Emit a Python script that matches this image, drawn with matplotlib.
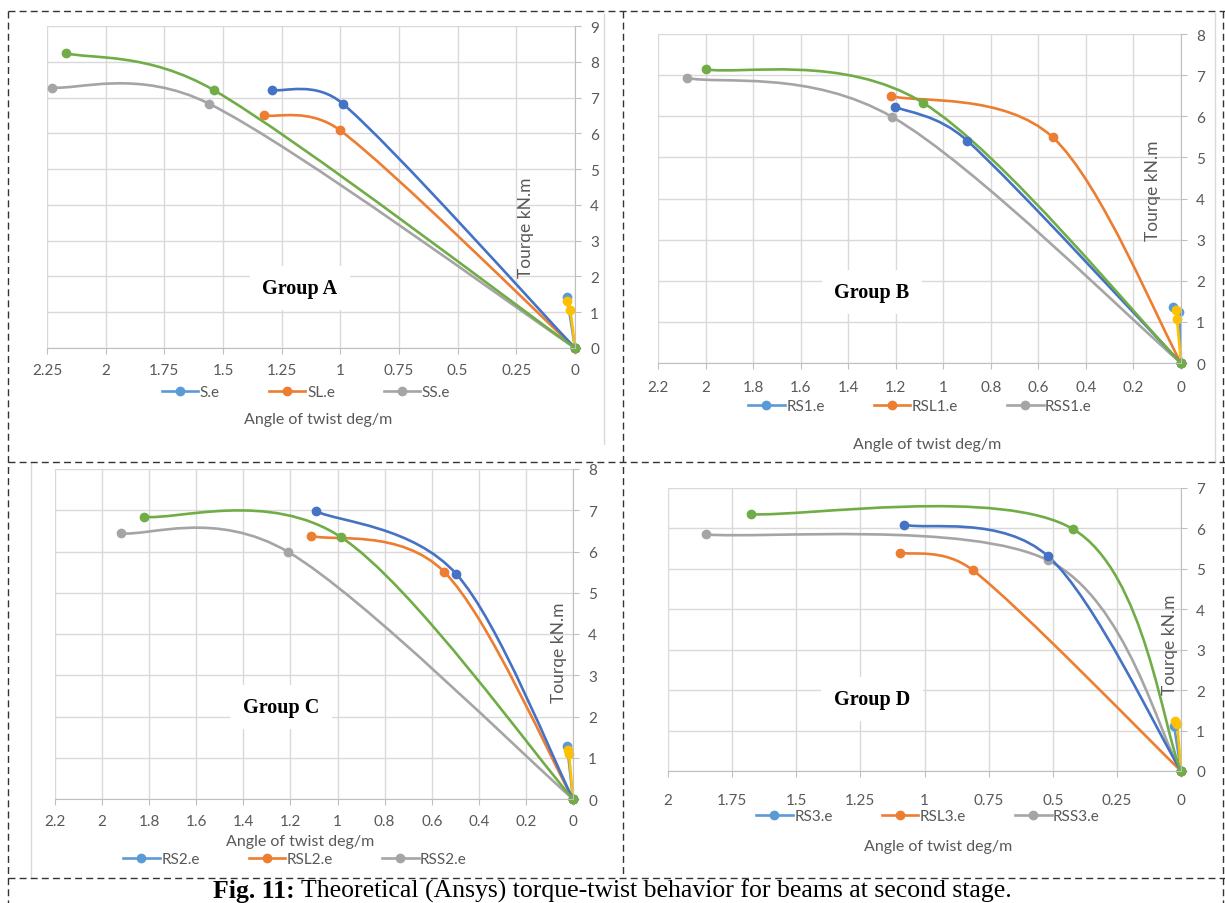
import numpy as np
import matplotlib
matplotlib.use('Agg')
import matplotlib.pyplot as plt
from matplotlib.path import Path
from matplotlib.patches import PathPatch
from matplotlib.lines import Line2D

# ---- data (angle of twist deg/m, torque kN.m) ----
# Group A
a_s_x, a_s_y = [0.034, 0], [1.42, 0]
a_sl_x, a_sl_y = [1.325, 1.0, 0], [6.50, 6.08, 0]
a_ss_x, a_ss_y = [2.23, 1.56, 0], [7.28, 6.83, 0]
a_y4_x, a_y4_y = [0.032, 0.02, 0], [1.31, 1.07, 0]
a_b5_x, a_b5_y = [1.29, 0.99, 0], [7.21, 6.83, 0]
a_g6_x, a_g6_y = [2.17, 1.54, 0], [8.24, 7.21, 0]
# Group B
b_s_x, b_s_y = [0.035, 0.008, 0], [1.36, 1.25, 0]
b_sl_x, b_sl_y = [1.22, 0.54, 0], [6.49, 5.49, 0]
b_ss_x, b_ss_y = [2.08, 1.214, 0], [6.93, 5.98, 0]
b_y4_x, b_y4_y = [0.022, 0.017, 0], [1.29, 1.07, 0]
b_b5_x, b_b5_y = [1.203, 0.90, 0], [6.23, 5.41, 0]
b_g6_x, b_g6_y = [2.0, 1.086, 0], [7.14, 6.33, 0]
# Group C
c_s_x, c_s_y = [0.025, 0], [1.29, 0]
c_sl_x, c_sl_y = [1.113, 0.546, 0], [6.38, 5.50, 0]
c_ss_x, c_ss_y = [1.92, 1.21, 0], [6.44, 5.99, 0]
c_y4_x, c_y4_y = [0.022, 0.017, 0], [1.19, 1.10, 0]
c_b5_x, c_b5_y = [1.09, 0.495, 0], [6.97, 5.45, 0]
c_g6_x, c_g6_y = [1.82, 0.986, 0], [6.84, 6.35, 0]
# Group D
d_s_x, d_s_y = [0.027, 0], [1.12, 0]
d_sl_x, d_sl_y = [1.094, 0.81, 0], [5.40, 4.96, 0]
d_ss_x, d_ss_y = [1.85, 0.518, 0], [5.85, 5.21, 0]
d_y4_x, d_y4_y = [0.023, 0.015, 0], [1.24, 1.16, 0]
d_b5_x, d_b5_y = [1.078, 0.518, 0], [6.09, 5.31, 0]
d_g6_x, d_g6_y = [1.676, 0.42, 0], [6.35, 5.98, 0]

names_a = ['S.e', 'SL.e', 'SS.e']
names_b = ['RS1.e', 'RSL1.e', 'RSS1.e']
names_c = ['RS2.e', 'RSL2.e', 'RSS2.e']
names_d = ['RS3.e', 'RSL3.e', 'RSS3.e']

colors = ['#5B9BD5', '#ED7D31', '#A5A5A5', '#FFC000', '#4472C4', '#70AD47']

W, H = 1225, 904
fig = plt.figure(figsize=(W / 100, H / 100), dpi=100)
fig.patch.set_facecolor('white')


def rect(x0, y0, x1, y1):
    return [x0 / W, 1 - y1 / H, (x1 - x0) / W, (y1 - y0) / H]


def fx(x):
    return x / W


def fy(y):
    return 1 - y / H


def smooth_path(x, y, sx, sy):
    # excel style smoothed line: bezier, tangent 1/6 of chord,
    # limited to half the segment length (worked in pixel units)
    pts = np.column_stack([np.array(x) * sx, np.array(y) * sy]).astype(float)
    n = len(pts)
    verts = [pts[0]]
    codes = [Path.MOVETO]
    for i in range(n - 1):
        p0 = pts[max(i - 1, 0)]
        p1 = pts[i]
        p2 = pts[i + 1]
        p3 = pts[min(i + 2, n - 1)]
        seg = np.hypot(*(p2 - p1))
        t1 = (p2 - p0) / 6
        t2 = (p3 - p1) / 6
        for t in (t1, t2):
            L = np.hypot(*t)
            if L > seg / 2:
                t *= (seg / 2) / L
        verts += [p1 + t1, p2 - t2, p2]
        codes += [Path.CURVE4] * 3
    verts = np.array(verts) / [sx, sy]
    return Path(verts, codes)


panels = [
    dict(px=(47, 27, 575, 349), xmax=2.25, xstep=0.25, ymax=9,
         series=[(a_s_x, a_s_y), (a_sl_x, a_sl_y), (a_ss_x, a_ss_y),
                 (a_y4_x, a_y4_y), (a_b5_x, a_b5_y), (a_g6_x, a_g6_y)],
         names=names_a, group='Group A', gpos=(300, 289), ylab=(526, 228),
         leg=(306, 393), xlab=(318, 420), pad=7),
    dict(px=(658, 35, 1181, 364), xmax=2.2, xstep=0.2, ymax=8,
         series=[(b_s_x, b_s_y), (b_sl_x, b_sl_y), (b_ss_x, b_ss_y),
                 (b_y4_x, b_y4_y), (b_b5_x, b_b5_y), (b_g6_x, b_g6_y)],
         names=names_b, group='Group B', gpos=(872, 293), ylab=(1153, 191),
         leg=(920, 407), xlab=(927, 445), pad=8),
    dict(px=(55, 470, 573, 800), xmax=2.2, xstep=0.2, ymax=8,
         series=[(c_s_x, c_s_y), (c_sl_x, c_sl_y), (c_ss_x, c_ss_y),
                 (c_y4_x, c_y4_y), (c_b5_x, c_b5_y), (c_g6_x, c_g6_y)],
         names=names_c, group='Group C', gpos=(281, 708), ylab=(559, 653),
         leg=(295, 860), xlab=(300, 842), pad=7),
    dict(px=(668, 489, 1181, 772), xmax=2.0, xstep=0.25, ymax=7,
         series=[(d_s_x, d_s_y), (d_sl_x, d_sl_y), (d_ss_x, d_ss_y),
                 (d_y4_x, d_y4_y), (d_b5_x, d_b5_y), (d_g6_x, d_g6_y)],
         names=names_d, group='Group D', gpos=(872, 700), ylab=(1170, 645),
         leg=(928, 817), xlab=(938, 847), pad=12),
]

font = 'Lato'
tcol = '#595959'

for p in panels:
    x0, y0, x1, y1 = p['px']
    ax = fig.add_axes(rect(x0, y0, x1, y1))
    sx = (x1 - x0) / p['xmax']
    sy = (y1 - y0) / p['ymax']
    ax.set_xlim(p['xmax'], 0)
    ax.set_ylim(0, p['ymax'])
    ax.set_xticks(np.round(np.arange(0, p['xmax'] + 1e-9, p['xstep']), 2))
    ax.set_xticklabels(['%g' % t for t in ax.get_xticks()])
    ax.set_yticks(range(0, p['ymax'] + 1))
    ax.yaxis.tick_right()
    ax.grid(True, color='#D9D9D9', lw=1)
    ax.set_axisbelow(True)
    ax.spines['top'].set_visible(False)
    ax.spines['left'].set_visible(False)
    ax.spines['right'].set_color('#BFBFBF')
    ax.spines['bottom'].set_color('#BFBFBF')
    ax.tick_params(axis='x', direction='out', length=4, color='#BFBFBF',
                   labelcolor=tcol, labelsize=11, pad=p['pad'])
    ax.tick_params(axis='y', direction='out', length=4, color='#BFBFBF',
                   labelcolor=tcol, labelsize=11, pad=7)
    for lab in ax.get_xticklabels() + ax.get_yticklabels():
        lab.set_fontfamily(font)

    for (x, y), c in zip(p['series'], colors):
        ax.add_patch(PathPatch(smooth_path(x, y, sx, sy), fill=False, edgecolor=c,
                               lw=1.9, capstyle='round', clip_on=False))
        ax.plot(x, y, ls='none', marker='o', ms=6, color=c, clip_on=False)

    handles = [Line2D([], [], color=c, lw=1.9, marker='o', ms=6) for c in colors[:3]]
    fig.legend(handles, p['names'], loc='center',
               bbox_to_anchor=(fx(p['leg'][0]), fy(p['leg'][1])), ncol=3,
               frameon=False, handlelength=2.4, handletextpad=0.1,
               columnspacing=3.2, prop={'family': font, 'size': 11},
               labelcolor=tcol)

    fig.text(fx(p['xlab'][0]), fy(p['xlab'][1]), 'Angle of twist deg/m',
             ha='center', va='center', color=tcol, fontsize=11.5, family=font)
    fig.text(fx(p['ylab'][0]), fy(p['ylab'][1]), 'Tourqe kN.m', rotation=90,
             ha='center', va='center', color=tcol, fontsize=12.5, family=font)
    fig.text(fx(p['gpos'][0]), fy(p['gpos'][1]), p['group'], ha='center',
             va='center', family='Liberation Serif', fontweight='bold',
             fontsize=14.5, color='black',
             bbox=dict(facecolor='white', edgecolor='none', pad=9))

# chart area edges (light grey)
grey_edges = [((604, 604), (15, 445)), ((1215, 1215), (14, 463)), ((31, 31), (464, 879))]
for (xs, ys) in grey_edges:
    fig.add_artist(Line2D([fx(v) for v in xs], [fy(v) for v in ys],
                          color='#D9D9D9', lw=1))

# dashed table borders
dash = (0, (5, 3))
borders = [((8, 1225), (12, 12)), ((8, 8), (12, 904)), ((623, 623), (12, 879)),
           ((8, 1225), (463, 463)), ((8, 1225), (879, 879)), ((1223, 1223), (12, 904))]
for (xs, ys) in borders:
    fig.add_artist(Line2D([fx(v) for v in xs], [fy(v) for v in ys],
                          color='#333333', lw=1, linestyle=dash))

# caption
t1 = fig.text(fx(213), fy(898), 'Fig. 11:', ha='left', va='baseline',
              family='Liberation Serif', fontweight='bold', fontsize=18.5)
fig.axes[0].annotate(' Theoretical (Ansys) torque-twist behavior for beams at second stage.',
                     xy=(1, 0), xycoords=t1, ha='left', va='bottom',
                     family='Liberation Serif', fontsize=18.5, annotation_clip=False)

fig.savefig('out.png', dpi=100, facecolor='white')
